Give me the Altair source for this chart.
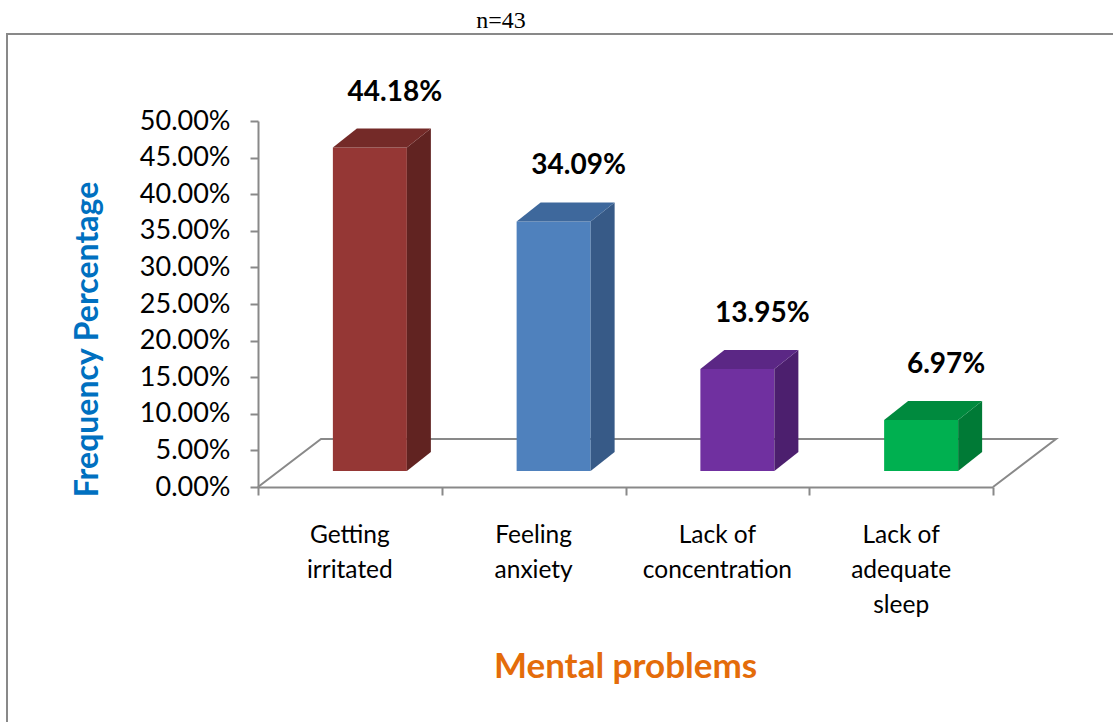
import altair as alt
import pandas as pd

# --- data -------------------------------------------------------------
categories = ["Getting irritated", "Feeling anxiety", "Lack of concentration", "Lack of adequate sleep"]
category_labels = ["Getting\nirritated", "Feeling\nanxiety", "Lack of\nconcentration", "Lack of\nadequate\nsleep"]
percentages = [44.18, 34.09, 13.95, 6.97]
front_colors = ["#953735", "#4f81bd", "#7030a0", "#00b050"]
side_colors = ["#612321", "#375a87", "#4c1f6e", "#007a36"]
top_colors = ["#742a28", "#3e689c", "#5b2785", "#008a3e"]
sample_note = "n=43"

# --- geometry (pixels) -------------------------------------------------
W, H = 735, 366            # plot area
Y_MAX = 50
N = len(categories)
PX_X = W / N               # pixels per category
PX_Y = H / Y_MAX           # pixels per percentage point
BAR_W = 74                 # front face width
FRONT_DX, FRONT_DY = 20, 16   # front face offset into the floor
DEPTH_X, DEPTH_Y = 24, 19     # bar depth
FLOOR_X, FLOOR_Y = 63, 48     # floor depth
LABEL_DX, LABEL_DY = 45, 36   # value label offset from category centre / bar top
GRAY = "#898989"
FONT = "Lato"

dx, dy = DEPTH_X / PX_X, DEPTH_Y / PX_Y
y0 = FRONT_DY / PX_Y

front_rows, side_rows, top_rows, label_rows = [], [], [], []
for i, (cat, v) in enumerate(zip(categories, percentages)):
    xl = i + 0.5 + (FRONT_DX - BAR_W / 2) / PX_X
    xr = xl + BAR_W / PX_X
    y1 = y0 + v
    front_rows.append(dict(cat=cat, x=xl, x2=xr, y=y0, y2=y1, fill=front_colors[i]))
    side_rows += [
        dict(cat=cat, x=xr, lo=y0, hi=y1, fill=side_colors[i]),
        dict(cat=cat, x=xr + dx, lo=y0 + dy, hi=y1 + dy, fill=side_colors[i]),
    ]
    top_rows += [
        dict(cat=cat, x=xl, lo=y1, hi=y1, fill=top_colors[i]),
        dict(cat=cat, x=xl + dx, lo=y1, hi=y1 + dy, fill=top_colors[i]),
        dict(cat=cat, x=xr, lo=y1, hi=y1 + dy, fill=top_colors[i]),
        dict(cat=cat, x=xr + dx, lo=y1 + dy, hi=y1 + dy, fill=top_colors[i]),
    ]
    label_rows.append(dict(
        x=i + 0.5 + LABEL_DX / PX_X,
        y=y1 + dy + LABEL_DY / PX_Y,
        text=f"{v:.2f}%",
    ))

front_df = pd.DataFrame(front_rows)
side_df = pd.DataFrame(side_rows)
top_df = pd.DataFrame(top_rows)
label_df = pd.DataFrame(label_rows)
cat_df = pd.DataFrame({"x": [i + 0.5 for i in range(N)], "text": category_labels})

fdx, fdy = FLOOR_X / PX_X, FLOOR_Y / PX_Y
floor_df = pd.DataFrame({
    "x": [0, fdx, N + fdx, N],
    "y": [0, fdy, fdy, 0],
    "o": [0, 1, 2, 3],
})

xs = alt.Scale(domain=[0, N], nice=False, zero=False)
ys = alt.Scale(domain=[0, Y_MAX], nice=False)

x_axis = alt.Axis(
    values=list(range(N + 1)), labels=False, grid=False,
    tickSize=8, tickColor=GRAY, tickWidth=2,
    domainColor=GRAY, domainWidth=2,
    title="Mental problems", titleFont=FONT, titleFontSize=35,
    titleFontWeight="bold", titleColor="#e46c0a",
    titleX=625 - 258, titleY=677 - 487,
    titleAlign="center", titleBaseline="alphabetic",
)
y_axis = alt.Axis(
    values=list(range(0, Y_MAX + 1, 5)),
    labelExpr="format(datum.value, '.2f') + '%'",
    labelFont=FONT, labelFontSize=27, labelColor="#000000",
    labelPadding=20, grid=False,
    tickSize=8, tickColor=GRAY, tickWidth=2,
    domainColor=GRAY, domainWidth=2,
    title="Frequency Percentage", titleFont=FONT, titleFontSize=32,
    titleFontWeight="bold", titleColor="#0070c0", titleAngle=270,
    titleX=87 - 258, titleY=339 - 121,
    titleAlign="center", titleBaseline="middle",
)


def xq(field):
    return alt.X(field, scale=xs, axis=x_axis)


def yq(field, **kw):
    return alt.Y(field, scale=ys, axis=y_axis, **kw)


# frame around the figure
frame = alt.Chart(pd.DataFrame({"k": [0]})).mark_rect(
    fill="transparent", stroke=GRAY, strokeWidth=2
).encode(
    x=alt.value(7 - 258), x2=alt.value(W + 200),
    y=alt.value(34 - 121), y2=alt.value(H + 300),
)

# floor of the 3-D plot area (front edge is the x-axis line)
floor = alt.Chart(floor_df).mark_line(color=GRAY, strokeWidth=2, strokeJoin="miter").encode(
    x=xq("x:Q"), y=yq("y:Q"), order="o:Q",
)

front = alt.Chart(front_df).mark_rect().encode(
    x=xq("x:Q"), x2="x2:Q", y=yq("y:Q"), y2="y2:Q",
    color=alt.Color("fill:N", scale=None),
)

side = alt.Chart(side_df).mark_area().encode(
    x=xq("x:Q"), y=yq("hi:Q", stack=False), y2="lo:Q",
    color=alt.Color("fill:N", scale=None),
)

top = alt.Chart(top_df).mark_area(orient="vertical").encode(
    x=xq("x:Q"), y=yq("hi:Q", stack=False), y2="lo:Q",
    detail="cat:N",
    color=alt.Color("fill:N", scale=None),
)

values_text = alt.Chart(label_df).mark_text(
    font=FONT, fontSize=28, fontWeight="bold", color="#000000",
    align="center", baseline="middle",
).encode(
    x=xq("x:Q"), y=yq("y:Q"), text="text:N",
)

cat_text = alt.Chart(cat_df).mark_text(
    font=FONT, fontSize=24.5, color="#000000", align="center",
    baseline="alphabetic", lineBreak="\n", lineHeight=35,
).encode(
    x=xq("x:Q"), y=alt.value(543 - 121), text="text:N",
)

note = alt.Chart(pd.DataFrame({"text": [sample_note]})).mark_text(
    font="Liberation Serif", fontSize=24, color="#000000",
    align="center", baseline="alphabetic",
).encode(
    x=alt.value(501 - 258), y=alt.value(28 - 121), text="text:N",
)

chart = alt.layer(
    frame, floor, front, side, top, values_text, cat_text, note
).properties(
    width=W, height=H,
    autosize=alt.AutoSizeParams(type="none"),
    padding={"left": 258, "top": 121, "right": 1113 - 258 - W, "bottom": 722 - 121 - H},
    background="#ffffff",
).configure_view(stroke="transparent")

chart.save("out.html", embed_options={"renderer": "svg", "actions": False})
